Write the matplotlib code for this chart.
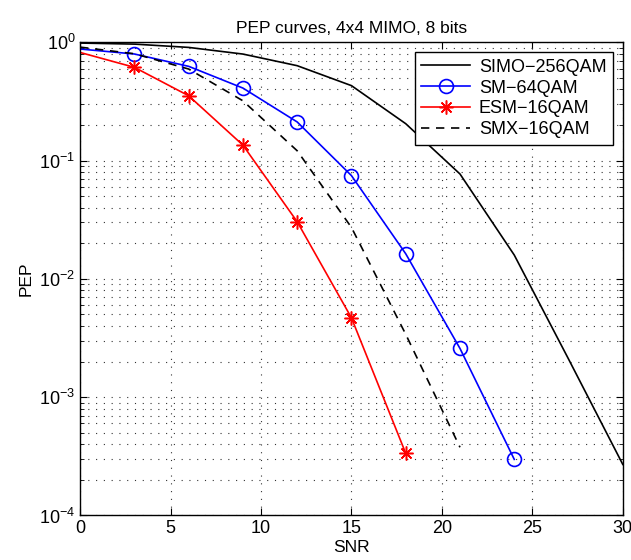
import matplotlib
matplotlib.use("Agg")
import matplotlib.pyplot as plt
from matplotlib.ticker import LogLocator, NullFormatter, MultipleLocator

plt.rcParams['font.family'] = ['Liberation Sans', 'DejaVu Sans']

# SNR points, step of 3 dB
snr_simo = [0, 3, 6, 9, 12, 15, 18, 21, 24, 27, 30]
pep_simo = [0.985, 0.965, 0.905, 0.795, 0.634, 0.43, 0.205, 0.077, 0.0159, 0.0021, 0.00027]

snr_sm = [0, 3, 6, 9, 12, 15, 18, 21, 24]
pep_sm = [0.877, 0.796, 0.626, 0.41, 0.212, 0.0746, 0.0163, 0.00258, 0.000298]

snr_esm = [0, 3, 6, 9, 12, 15, 18]
pep_esm = [0.82, 0.614, 0.353, 0.135, 0.0304, 0.00468, 0.000335]

snr_smx = [0, 3, 6, 9, 12, 15, 18, 21]
pep_smx = [0.91, 0.80, 0.594, 0.32, 0.121, 0.0272, 0.0034, 0.000377]

labels = ["SIMO\u2212256QAM", "SM\u221264QAM", "ESM\u221216QAM", "SMX\u221216QAM"]

fig = plt.figure(figsize=(6.31, 5.60), dpi=100)
ax = fig.add_axes([0.127, 0.0795, 0.86, 0.845])

ax.semilogy(snr_simo, pep_simo, color='black', lw=1.2, label=labels[0])
ax.semilogy(snr_sm, pep_sm, color='blue', lw=1.2, marker='o', ms=10,
            mfc='none', mew=1.2, markevery=slice(1, None), label=labels[1])
ax.semilogy(snr_esm, pep_esm, color='red', lw=1.2, marker=(8, 2, 0), ms=10,
            mew=1.1, markevery=slice(1, None), label=labels[2])
ax.semilogy(snr_smx, pep_smx, color='black', lw=1.2, ls=(0, (5, 4)), label=labels[3])

ax.set_xlim(0, 30)
ax.set_ylim(1e-4, 1)
ax.xaxis.set_major_locator(MultipleLocator(5))
ax.yaxis.set_major_locator(LogLocator(base=10))
ax.yaxis.set_minor_locator(LogLocator(base=10, subs=range(2, 10)))
ax.yaxis.set_minor_formatter(NullFormatter())

grid_style = dict(ls=(0, (1, 6)), color='0.2', lw=0.8)
ax.grid(True, which='major', axis='both', **grid_style)
ax.grid(True, which='minor', axis='y', **grid_style)
ax.tick_params(which='both', direction='in', top=True, right=True, labelsize=13)
ax.tick_params(which='major', length=5)
ax.tick_params(which='minor', length=3)
for s in ax.spines.values():
    s.set_linewidth(1.0)

ax.set_title("PEP curves, 4x4 MIMO, 8 bits", fontsize=12.5, pad=7)
ax.set_xlabel("SNR", fontsize=12.5, labelpad=2)
ax.set_ylabel("PEP", fontsize=12.5)

leg = ax.legend(loc='upper right', fontsize=13, fancybox=False, framealpha=1,
                edgecolor='black', borderaxespad=0.55, handlelength=2.7,
                labelspacing=0.22, borderpad=0.35, handletextpad=0.5)
leg.get_frame().set_linewidth(1.0)

fig.savefig("out.png", dpi=100)
